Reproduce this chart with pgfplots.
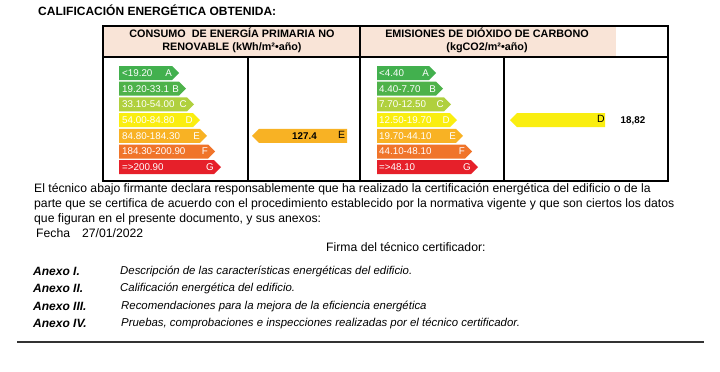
\documentclass[border=0pt]{standalone}
\usepackage{fontspec}
\setmainfont{Liberation Sans}
\usepackage{pgfplots}
\pgfplotsset{compat=1.18}
\definecolor{cA}{RGB}{66,176,78}
\definecolor{cB}{RGB}{78,178,74}
\definecolor{cC}{RGB}{176,208,62}
\definecolor{cD}{RGB}{250,238,16}
\definecolor{cE}{RGB}{248,178,36}
\definecolor{cF}{RGB}{240,116,42}
\definecolor{cG}{RGB}{230,32,42}
\definecolor{hdr}{RGB}{249,228,215}
\begin{document}
\begin{tikzpicture}
\begin{axis}[width=720pt,height=372pt,scale only axis,xmin=0,xmax=720,ymin=0,ymax=372,
  y dir=reverse,hide axis,clip=false]
\fill[white] (0,0) rectangle (720,372);
% header backgrounds
\fill[hdr] (103,26) rectangle (360,57);
\fill[hdr] (360,26) rectangle (616,57);
% ---- left scale (consumo)
\addplot[fill=cA,draw=none] coordinates {(119,66.0)(172,66.0)(179,73.0)(172,80.0)(119,80.0)} -- cycle;
\addplot[fill=cB,draw=none] coordinates {(119,81.7)(179,81.7)(186,88.7)(179,95.7)(119,95.7)} -- cycle;
\addplot[fill=cC,draw=none] coordinates {(119,97.4)(187,97.4)(194,104.4)(187,111.4)(119,111.4)} -- cycle;
\addplot[fill=cD,draw=none] coordinates {(119,113.1)(193,113.1)(200,120.1)(193,127.1)(119,127.1)} -- cycle;
\addplot[fill=cE,draw=none] coordinates {(119,128.8)(200,128.8)(207,135.8)(200,142.8)(119,142.8)} -- cycle;
\addplot[fill=cF,draw=none] coordinates {(119,144.5)(208,144.5)(215,151.5)(208,158.5)(119,158.5)} -- cycle;
\addplot[fill=cG,draw=none] coordinates {(119,160.2)(214,160.2)(221,167.2)(214,174.2)(119,174.2)} -- cycle;
% ---- right scale (emisiones)
\addplot[fill=cA,draw=none] coordinates {(377,66.0)(429,66.0)(436,73.0)(429,80.0)(377,80.0)} -- cycle;
\addplot[fill=cB,draw=none] coordinates {(377,81.7)(436,81.7)(443,88.7)(436,95.7)(377,95.7)} -- cycle;
\addplot[fill=cC,draw=none] coordinates {(377,97.4)(444,97.4)(451,104.4)(444,111.4)(377,111.4)} -- cycle;
\addplot[fill=cD,draw=none] coordinates {(377,113.1)(450,113.1)(457,120.1)(450,127.1)(377,127.1)} -- cycle;
\addplot[fill=cE,draw=none] coordinates {(377,128.8)(456,128.8)(463,135.8)(456,142.8)(377,142.8)} -- cycle;
\addplot[fill=cF,draw=none] coordinates {(377,144.5)(465,144.5)(472,151.5)(465,158.5)(377,158.5)} -- cycle;
\addplot[fill=cG,draw=none] coordinates {(377,160.2)(471,160.2)(478,167.2)(471,174.2)(377,174.2)} -- cycle;
% ---- obtained values
\addplot[fill=cE,draw=none] coordinates {(252,135.8)(259,128.8)(347,128.8)(347,142.8)(259,142.8)} -- cycle;
\addplot[fill=cD,draw=none] coordinates {(510,120.1)(517,113.1)(605,113.1)(605,127.1)(517,127.1)} -- cycle;
% bar labels
\begin{scope}[every node/.style={inner sep=0pt,text=white,font=\fontsize{9.8}{10}\selectfont}]
\node[anchor=west] at (122,73.0) {<19.20};
\node[anchor=west] at (122,88.7) {19.20-33.1};
\node[anchor=west] at (122,104.4) {33.10-54.00};
\node[anchor=west] at (122,120.1) {54.00-84.80};
\node[anchor=west] at (122,135.8) {84.80-184.30};
\node[anchor=west] at (122,151.5) {184.30-200.90};
\node[anchor=west] at (122,167.2) {=>200.90};
\node[anchor=east] at (172,73.0) {A};
\node[anchor=east] at (179,88.7) {B};
\node[anchor=east] at (187,104.4) {C};
\node[anchor=east] at (193,120.1) {D};
\node[anchor=east] at (200,135.8) {E};
\node[anchor=east] at (208,151.5) {F};
\node[anchor=east] at (214,167.2) {G};
\node[anchor=west] at (379,73.0) {<4.40};
\node[anchor=west] at (379,88.7) {4.40-7.70};
\node[anchor=west] at (379,104.4) {7.70-12.50};
\node[anchor=west] at (379,120.1) {12.50-19.70};
\node[anchor=west] at (379,135.8) {19.70-44.10};
\node[anchor=west] at (379,151.5) {44.10-48.10};
\node[anchor=west] at (379,167.2) {=>48.10};
\node[anchor=east] at (429,73.0) {A};
\node[anchor=east] at (436,88.7) {B};
\node[anchor=east] at (444,104.4) {C};
\node[anchor=east] at (450,120.1) {D};
\node[anchor=east] at (456,135.8) {E};
\node[anchor=east] at (465,151.5) {F};
\node[anchor=east] at (471,167.2) {G};
\end{scope}
\node[inner sep=0pt,font=\fontsize{9.8}{10}\selectfont\bfseries] at (304.5,136) {127.4};
\node[inner sep=0pt,font=\fontsize{10.5}{10}\selectfont] at (341.5,135) {E};
\node[inner sep=0pt,font=\fontsize{10.5}{10}\selectfont] at (601,119) {D};
\node[inner sep=0pt,font=\fontsize{9.8}{10}\selectfont\bfseries] at (633,121) {18,82};
% table lines
\draw[line width=1.8pt] (103,26) rectangle (668,181);
\draw[line width=1.8pt] (103,57) -- (668,57);
\draw[line width=1.5pt] (360,26) -- (360,181);
\draw[line width=1.5pt] (248,57) -- (248,181);
\draw[line width=1.5pt] (504,57) -- (504,181);
% header text
\node[align=center,inner sep=0pt,font=\fontsize{10.8}{13}\selectfont\bfseries] at (232,40) {CONSUMO\ \ DE ENERGÍA PRIMARIA NO\\RENOVABLE (kWh/m²•año)};
\node[align=center,inner sep=0pt,font=\fontsize{10.8}{13}\selectfont\bfseries] at (487,40) {EMISIONES DE DIÓXIDO DE CARBONO\\(kgCO2/m²•año)};
% title
\node[anchor=west,inner sep=0pt,font=\fontsize{12}{14}\selectfont\bfseries] at (38,10) {CALIFICACIÓN ENERGÉTICA OBTENIDA:};
% body text
\begin{scope}[every node/.style={anchor=west,inner sep=0pt,font=\fontsize{12.2}{14}\selectfont}]
\node at (34,189) {El técnico abajo firmante declara responsablemente que ha realizado la certificación energética del edificio o de la};
\node at (34,204) {parte que se certifica de acuerdo con el procedimiento establecido por la normativa vigente y que son ciertos los datos};
\node at (34,219) {que figuran en el presente documento, y sus anexos:};
\node at (36,233) {Fecha\hspace{12pt}27/01/2022};
\node at (326,247) {Firma del técnico certificador:};
\end{scope}
\begin{scope}[every node/.style={anchor=west,inner sep=0pt,font=\fontsize{11.4}{12}\selectfont\itshape}]
\node[font=\fontsize{12}{12}\selectfont\bfseries\itshape] at (33,271) {Anexo I.};
\node[font=\fontsize{12}{12}\selectfont\bfseries\itshape] at (33,288) {Anexo II.};
\node[font=\fontsize{12}{12}\selectfont\bfseries\itshape] at (33,306) {Anexo III.};
\node[font=\fontsize{12}{12}\selectfont\bfseries\itshape] at (33,323) {Anexo IV.};
\node at (120,271) {Descripción de las características energéticas del edificio.};
\node at (120,288) {Calificación energética del edificio.};
\node at (121,306) {Recomendaciones para la mejora de la eficiencia energética};
\node at (121,323) {Pruebas, comprobaciones e inspecciones realizadas por el técnico certificador.};
\end{scope}
\draw[line width=2.2pt,color=black!80] (17,342) -- (704,342);
\end{axis}
\end{tikzpicture}
\end{document}
